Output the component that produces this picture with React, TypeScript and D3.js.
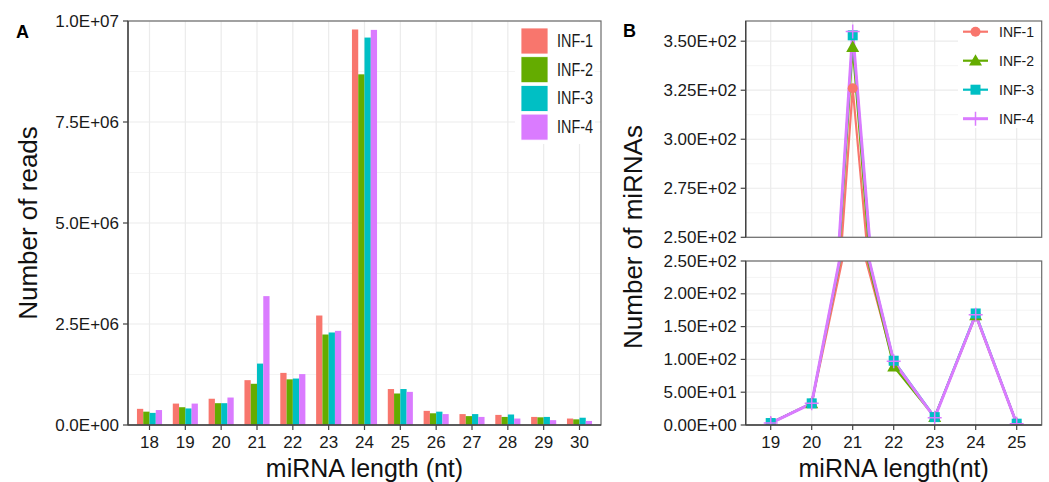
import React from 'react';
import * as d3 from 'd3';

// panel A: total reads per miRNA length
const lengthsA = ['18', '19', '20', '21', '22', '23', '24', '25', '26', '27', '28', '29', '30'];
const readsInf1 = [0.40e6, 0.53e6, 0.65e6, 1.11e6, 1.29e6, 2.71e6, 9.79e6, 0.89e6, 0.35e6, 0.27e6, 0.25e6, 0.20e6, 0.16e6];
const readsInf2 = [0.33e6, 0.44e6, 0.54e6, 1.02e6, 1.13e6, 2.24e6, 8.68e6, 0.78e6, 0.29e6, 0.22e6, 0.20e6, 0.19e6, 0.14e6];
const readsInf3 = [0.30e6, 0.41e6, 0.54e6, 1.52e6, 1.15e6, 2.29e6, 9.59e6, 0.89e6, 0.33e6, 0.27e6, 0.26e6, 0.20e6, 0.18e6];
const readsInf4 = [0.37e6, 0.53e6, 0.68e6, 3.19e6, 1.26e6, 2.33e6, 9.78e6, 0.82e6, 0.27e6, 0.20e6, 0.16e6, 0.12e6, 0.10e6];
const ticksA = [0, 2.5e6, 5e6, 7.5e6, 1e7];

// panel B: number of miRNAs per length (broken axis)
const lengthsB = ['19', '20', '21', '22', '23', '24', '25'];
const mirInf1 = [3, 33, 326, 95, 12, 168, 2];
const mirInf2 = [3, 33, 347, 89, 12, 167, 2];
const mirInf3 = [3, 33, 353, 98, 12, 170, 2];
const mirInf4 = [3, 33, 355, 97, 11, 168, 2];
const ticksBTop = [250, 275, 300, 325, 350];
const ticksBBottom = [0, 50, 100, 150, 200, 250];

const samples = ['INF-1', 'INF-2', 'INF-3', 'INF-4'];
const colors = ['#F8766D', '#64AC00', '#00BFC4', '#DA7BFF'];

const FONT = '"Liberation Sans", Arial, sans-serif';
const GRID = '#EBEBEB';
const GRID_MINOR = '#F4F4F4';
const BORDER = '#6b6b6b';

const fmtE = (v: number, digits: number) => {
  if (v === 0) return (0).toFixed(digits) + 'E+00';
  const [m, e] = v.toExponential(digits).split('e');
  const n = parseInt(e, 10);
  return `${m}E${n < 0 ? '-' : '+'}${String(Math.abs(n)).padStart(2, '0')}`;
};

const App: React.FC = () => {
  // ---------- Panel A ----------
  const aL = 128, aR = 601, aT = 21, aB = 425;
  const xA = d3.scalePoint<string>().domain(lengthsA).range([aL, aR]).padding(0.6);
  const yA = d3.scaleLinear().domain([0, 1e7]).range([aB, aT]);
  const dodge = d3.scaleBand<string>().domain(samples).range([-xA.step() * 0.35, xA.step() * 0.35]);
  const readsA = [readsInf1, readsInf2, readsInf3, readsInf4];
  const minorA = ticksA.slice(0, -1).map((t, i) => (t + ticksA[i + 1]) / 2);

  // ---------- Panel B ----------
  const bL = 745.7, bR = 1041.7;
  const topT = 21, topB = 237.3;
  const botT = 261, botB = 425;
  const xB = d3.scalePoint<string>().domain(lengthsB).range([bL, bR]).padding(0.61);
  const yTop = d3.scaleLinear().domain([250, 360.3]).range([topB, topT]);
  const yBot = d3.scaleLinear().domain([0, 250]).range([botB, botT]);
  const mirB = [mirInf1, mirInf2, mirInf3, mirInf4];
  const minorTop = ticksBTop.map(t => t + 12.5).filter(t => t < 360);
  const minorBot = ticksBBottom.slice(0, -1).map(t => t + 25);

  const shape = (i: number, cx: number, cy: number, key: string) => {
    const c = colors[i];
    if (i === 0) return <circle key={key} cx={cx} cy={cy} r={5} fill={c} />;
    if (i === 1) {
      const s = 6.5;
      return <path key={key} d={`M${cx},${cy - s}L${cx + s},${cy + s * 0.75}L${cx - s},${cy + s * 0.75}Z`} fill={c} />;
    }
    if (i === 2) return <rect key={key} x={cx - 5} y={cy - 5} width={10} height={10} fill={c} />;
    return <path key={key} d={`M${cx - 7},${cy}H${cx + 7}M${cx},${cy - 7}V${cy + 7}`} stroke={c} strokeWidth={1.5} />;
  };

  const linePanel = (y: d3.ScaleLinear<number, number>, clipId: string) => {
    const line = d3.line<number>().x((_, j) => xB(lengthsB[j]) as number).y(d => y(d));
    return (
      <g clipPath={`url(#${clipId})`}>
        {mirB.map((vals, i) => (
          <path key={`l${i}`} d={line(vals) || ''} fill="none" stroke={colors[i]} strokeWidth={i === 3 ? 3 : 2.2} />
        ))}
        {mirB.map((vals, i) => vals.map((v, j) => shape(i, xB(lengthsB[j]) as number, y(v), `p${i}-${j}`)))}
      </g>
    );
  };

  const tickStyle: React.CSSProperties = { fontFamily: FONT, fontSize: 17, fill: '#1a1a1a' };

  return (
    <svg width={1049} height={482} style={{ position: 'absolute', left: 0, top: 0, background: '#fff' }}>
      <defs>
        <clipPath id="clipA"><rect x={aL} y={aT} width={aR - aL} height={aB - aT} /></clipPath>
        <clipPath id="clipTop"><rect x={bL} y={topT} width={bR - bL} height={topB - topT} /></clipPath>
        <clipPath id="clipBot"><rect x={bL} y={botT} width={bR - bL} height={botB - botT} /></clipPath>
      </defs>

      {/* ===== Panel A ===== */}
      <text x={16} y={38} style={{ fontFamily: FONT, fontSize: 18, fontWeight: 'bold' }}>A</text>
      <g>
        {minorA.map(t => <line key={`ma${t}`} x1={aL} x2={aR} y1={yA(t)} y2={yA(t)} stroke={GRID_MINOR} strokeWidth={1} />)}
        {ticksA.map(t => <line key={`ga${t}`} x1={aL} x2={aR} y1={yA(t)} y2={yA(t)} stroke={GRID} strokeWidth={1.2} />)}
        {lengthsA.map(c => <line key={`va${c}`} x1={xA(c)} x2={xA(c)} y1={aT} y2={aB} stroke={GRID} strokeWidth={1.2} />)}
      </g>
      <g clipPath="url(#clipA)">
        {readsA.map((vals, i) =>
          vals.map((v, j) => (
            <rect
              key={`b${i}-${j}`}
              x={(xA(lengthsA[j]) as number) + (dodge(samples[i]) as number)}
              y={yA(v)}
              width={dodge.bandwidth()}
              height={aB - yA(v)}
              fill={colors[i]}
            />
          ))
        )}
      </g>
      {/* legend A */}
      <rect x={515} y={22} width={80} height={122} fill="#fff" />
      {samples.map((s, i) => (
        <g key={`lga${s}`}>
          <rect x={521} y={28 + i * 28.7} width={27} height={26} fill={colors[i]} stroke="#fff" strokeWidth={0.8} />
          <text x={557} y={41 + i * 28.7} dominantBaseline="central" textLength={36} lengthAdjust="spacingAndGlyphs"
            style={{ fontFamily: FONT, fontSize: 18, fill: '#1a1a1a' }}>{s}</text>
        </g>
      ))}
      <rect x={aL} y={aT} width={aR - aL} height={aB - aT} fill="none" stroke={BORDER} strokeWidth={1.2} />
      <line x1={aL} x2={aL} y1={aT} y2={aB} stroke="#444" strokeWidth={1.4} />
      <line x1={aL} x2={aR} y1={aB} y2={aB} stroke="#444" strokeWidth={1.4} />
      {ticksA.map(t => (
        <g key={`ta${t}`}>
          <line x1={aL - 5} x2={aL} y1={yA(t)} y2={yA(t)} stroke="#444" strokeWidth={1.2} />
          <text x={aL - 9} y={yA(t)} textAnchor="end" dominantBaseline="central" style={tickStyle}>{fmtE(t, 1)}</text>
        </g>
      ))}
      {lengthsA.map(c => (
        <g key={`xa${c}`}>
          <line x1={xA(c)} x2={xA(c)} y1={aB} y2={aB + 5} stroke="#444" strokeWidth={1.2} />
          <text x={xA(c)} y={448} textAnchor="middle" style={tickStyle}>{c}</text>
        </g>
      ))}
      <text x={(aL + aR) / 2} y={477} textAnchor="middle" style={{ fontFamily: FONT, fontSize: 25, fill: '#111' }}>miRNA length (nt)</text>
      <text transform={`translate(28,${(aT + aB) / 2}) rotate(-90)`} textAnchor="middle" dominantBaseline="central"
        style={{ fontFamily: FONT, fontSize: 26, fill: '#111' }}>Number of reads</text>

      {/* ===== Panel B ===== */}
      <text x={623} y={37} style={{ fontFamily: FONT, fontSize: 18, fontWeight: 'bold' }}>B</text>
      {/* top */}
      {minorTop.map(t => <line key={`mt${t}`} x1={bL} x2={bR} y1={yTop(t)} y2={yTop(t)} stroke={GRID_MINOR} strokeWidth={1} />)}
      {ticksBTop.map(t => <line key={`gt${t}`} x1={bL} x2={bR} y1={yTop(t)} y2={yTop(t)} stroke={GRID} strokeWidth={1.2} />)}
      {lengthsB.map(c => <line key={`vt${c}`} x1={xB(c)} x2={xB(c)} y1={topT} y2={topB} stroke={GRID} strokeWidth={1.2} />)}
      {/* bottom */}
      {minorBot.map(t => <line key={`mb${t}`} x1={bL} x2={bR} y1={yBot(t)} y2={yBot(t)} stroke={GRID_MINOR} strokeWidth={1} />)}
      {ticksBBottom.map(t => <line key={`gb${t}`} x1={bL} x2={bR} y1={yBot(t)} y2={yBot(t)} stroke={GRID} strokeWidth={1.2} />)}
      {lengthsB.map(c => <line key={`vb${c}`} x1={xB(c)} x2={xB(c)} y1={botT} y2={botB} stroke={GRID} strokeWidth={1.2} />)}

      {/* legend B (drawn under data like ggplot inside legend? keep above grid) */}
      <rect x={958} y={22} width={82} height={106} fill="#fff" />

      {linePanel(yTop, 'clipTop')}
      {linePanel(yBot, 'clipBot')}

      {samples.map((s, i) => (
        <g key={`lgb${s}`}>
          <line x1={963} x2={988} y1={31.7 + i * 29} y2={31.7 + i * 29} stroke={colors[i]} strokeWidth={i === 3 ? 3 : 2.2} />
          {shape(i, 975.5, 31.7 + i * 29, `lk${i}`)}
          <text x={999} y={31.7 + i * 29} dominantBaseline="central" style={{ fontFamily: FONT, fontSize: 14, fill: '#1a1a1a' }}>{s}</text>
        </g>
      ))}

      <rect x={bL} y={topT} width={bR - bL} height={topB - topT} fill="none" stroke={BORDER} strokeWidth={1.2} />
      <rect x={bL} y={botT} width={bR - bL} height={botB - botT} fill="none" stroke={BORDER} strokeWidth={1.2} />
      <line x1={bL} x2={bL} y1={topT} y2={topB} stroke="#444" strokeWidth={1.4} />
      <line x1={bL} x2={bL} y1={botT} y2={botB} stroke="#444" strokeWidth={1.4} />
      <line x1={bL} x2={bR} y1={botB} y2={botB} stroke="#444" strokeWidth={1.4} />
      {ticksBTop.map(t => (
        <g key={`tt${t}`}>
          <line x1={bL - 5} x2={bL} y1={yTop(t)} y2={yTop(t)} stroke="#444" strokeWidth={1.2} />
          <text x={bL - 9} y={yTop(t)} textAnchor="end" dominantBaseline="central" style={tickStyle}>{fmtE(t, 2)}</text>
        </g>
      ))}
      {ticksBBottom.map(t => (
        <g key={`tb${t}`}>
          <line x1={bL - 5} x2={bL} y1={yBot(t)} y2={yBot(t)} stroke="#444" strokeWidth={1.2} />
          <text x={bL - 9} y={yBot(t)} textAnchor="end" dominantBaseline="central" style={tickStyle}>{fmtE(t, 2)}</text>
        </g>
      ))}
      {lengthsB.map(c => (
        <g key={`xb${c}`}>
          <line x1={xB(c)} x2={xB(c)} y1={botB} y2={botB + 5} stroke="#444" strokeWidth={1.2} />
          <text x={xB(c)} y={448} textAnchor="middle" style={tickStyle}>{c}</text>
        </g>
      ))}
      <text x={(bL + bR) / 2} y={477} textAnchor="middle" style={{ fontFamily: FONT, fontSize: 25, fill: '#111' }}>miRNA length(nt)</text>
      <text transform="translate(633,237) rotate(-90)" textAnchor="middle" dominantBaseline="central"
        style={{ fontFamily: FONT, fontSize: 26, fill: '#111' }}>Number of miRNAs</text>
    </svg>
  );
};

export default App;
